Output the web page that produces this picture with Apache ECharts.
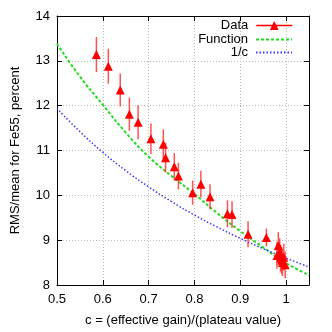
<!DOCTYPE html>
<html>
<head>
<meta charset="utf-8">
<script src="https://cdn.jsdelivr.net/npm/echarts@6/dist/echarts.min.js"></script>
<style>
  html, body { margin: 0; padding: 0; background: #fff; }
  #main { width: 332px; height: 332px; }
</style>
</head>
<body>
<div id="main"></div>
<script>
var myChart = echarts.init(document.getElementById('main'));

// 测量点 (c, RMS/mean, 误差)
var dataC = [0.586, 0.612, 0.638, 0.658, 0.677, 0.705, 0.732, 0.737, 0.756, 0.765,
  0.796, 0.814, 0.834, 0.872, 0.882, 0.917, 0.957,
  0.980, 0.983, 0.986, 0.988, 0.990, 0.992, 0.995, 0.998];
var dataRms = [13.14, 12.88, 12.35, 11.81, 11.63, 11.26, 11.14, 10.84, 10.64, 10.43,
  10.06, 10.25, 9.97, 9.59, 9.57, 9.13, 9.06,
  8.66, 8.88, 8.74, 8.60, 8.55, 8.50, 8.62, 8.45];
var dataErr = [0.39, 0.39, 0.37, 0.37, 0.38, 0.34, 0.33, 0.33, 0.30, 0.30,
  0.27, 0.30, 0.28, 0.30, 0.30, 0.29, 0.20,
  0.30, 0.30, 0.30, 0.30, 0.30, 0.30, 0.30, 0.30];

// 曲线
var curveC = [0.50, 0.55, 0.60, 0.65, 0.70, 0.75, 0.80, 0.85, 0.90, 0.95, 1.00, 1.05];
var funcVals = [13.38, 12.65, 12.02, 11.40, 10.86, 10.43, 10.03, 9.60, 9.20, 8.84, 8.49, 8.22];
var invVals = [11.94, 11.42, 10.96, 10.55, 10.19, 9.86, 9.56, 9.29, 9.04, 8.81, 8.60, 8.40];

var xTicks = { min: 0.5, max: 1.05, interval: 0.1 };
var yTicks = { min: 8, max: 14, interval: 1 };

var font = 'Liberation Sans';

function zip(a, b) {
  return a.map(function (v, i) { return [v, b[i]]; });
}

var errData = dataC.map(function (c, i) {
  return [c, dataRms[i] - dataErr[i], dataRms[i] + dataErr[i]];
});

var legendText = { fontSize: 13, color: '#000', fontFamily: font, padding: [0, 3, 0, 0] };

var option = {
  animation: false,
  textStyle: { fontFamily: font },
  grid: { left: 57, right: 23, top: 16, bottom: 42 },
  legend: [{
    data: [{ name: 'Data', lineStyle: { color: '#ff0000', width: 1.5, opacity: 1 } }],
    right: 39, top: 19, padding: 0, align: 'right',
    itemWidth: 36, itemHeight: 11,
    textStyle: legendText
  }, {
    data: [{ name: 'Function', itemStyle: { opacity: 0 } }],
    right: 39, top: 33, padding: 0, align: 'right',
    itemWidth: 36, itemHeight: 10,
    textStyle: legendText
  }, {
    data: [{ name: '1/c', itemStyle: { opacity: 0 } }],
    right: 39, top: 46, padding: 0, align: 'right',
    itemWidth: 36, itemHeight: 10,
    textStyle: legendText
  }],
  xAxis: [{
    type: 'value', min: xTicks.min, max: xTicks.max, interval: xTicks.interval,
    name: 'c = (effective gain)/(plateau value)',
    nameLocation: 'middle', nameGap: 29,
    nameTextStyle: { fontSize: 13, color: '#000', fontFamily: font },
    axisLine: { lineStyle: { color: '#000', width: 1 } },
    axisTick: { inside: true, length: 5, lineStyle: { color: '#000' } },
    axisLabel: { fontSize: 13, color: '#000', margin: 8, showMaxLabel: false, fontFamily: font },
    splitLine: { show: true, lineStyle: { color: '#bbb', type: [1, 2], width: 1 } }
  }, {
    type: 'value', position: 'top', min: xTicks.min, max: xTicks.max, interval: xTicks.interval,
    axisLine: { show: true, onZero: false, lineStyle: { color: '#000', width: 1 } },
    axisTick: { show: true, inside: true, length: 5, lineStyle: { color: '#000' } },
    axisLabel: { show: false },
    splitLine: { show: false }
  }],
  yAxis: [{
    type: 'value', min: yTicks.min, max: yTicks.max, interval: yTicks.interval,
    name: 'RMS/mean for Fe55, percent',
    nameLocation: 'middle', nameGap: 35,
    nameTextStyle: { fontSize: 13, color: '#000', fontFamily: font },
    axisLine: { show: true, lineStyle: { color: '#000', width: 1 } },
    axisTick: { show: true, inside: true, length: 5, lineStyle: { color: '#000' } },
    axisLabel: { fontSize: 13, color: '#000', margin: 7, fontFamily: font },
    splitLine: { show: true, lineStyle: { color: '#bbb', type: [1, 2], width: 1 } }
  }, {
    type: 'value', position: 'right', min: yTicks.min, max: yTicks.max, interval: yTicks.interval,
    axisLine: { show: true, onZero: false, lineStyle: { color: '#000', width: 1 } },
    axisTick: { show: true, inside: true, length: 5, lineStyle: { color: '#000' } },
    axisLabel: { show: false },
    splitLine: { show: false }
  }],
  series: [{
    name: 'Function',
    type: 'line',
    smooth: true,
    symbol: 'none',
    data: zip(curveC, funcVals),
    lineStyle: { color: '#22dd22', width: 2, type: [3, 2] },
    itemStyle: { color: '#22dd22' },
    z: 2
  }, {
    name: '1/c',
    type: 'line',
    smooth: true,
    symbol: 'none',
    data: zip(curveC, invVals),
    lineStyle: { color: '#3a3aff', width: 1.5, type: [1.5, 2] },
    itemStyle: { color: '#3a3aff' },
    z: 2
  }, {
    name: 'errbars',
    type: 'custom',
    data: errData,
    encode: { x: 0, y: [1, 2] },
    renderItem: function (params, api) {
      var lo = api.coord([api.value(0), api.value(1)]);
      var hi = api.coord([api.value(0), api.value(2)]);
      return {
        type: 'line',
        shape: { x1: lo[0], y1: lo[1], x2: hi[0], y2: hi[1] },
        style: { stroke: 'rgba(255,40,40,0.8)', lineWidth: 1.5 }
      };
    },
    silent: true,
    z: 3
  }, {
    name: 'Data',
    type: 'line',
    data: zip(dataC, dataRms),
    symbol: 'triangle',
    symbolSize: 9,
    showAllSymbol: true,
    lineStyle: { opacity: 0 },
    itemStyle: { color: '#ff0000' },
    silent: true,
    z: 4
  }]
};

myChart.setOption(option);
</script>
</body>
</html>
